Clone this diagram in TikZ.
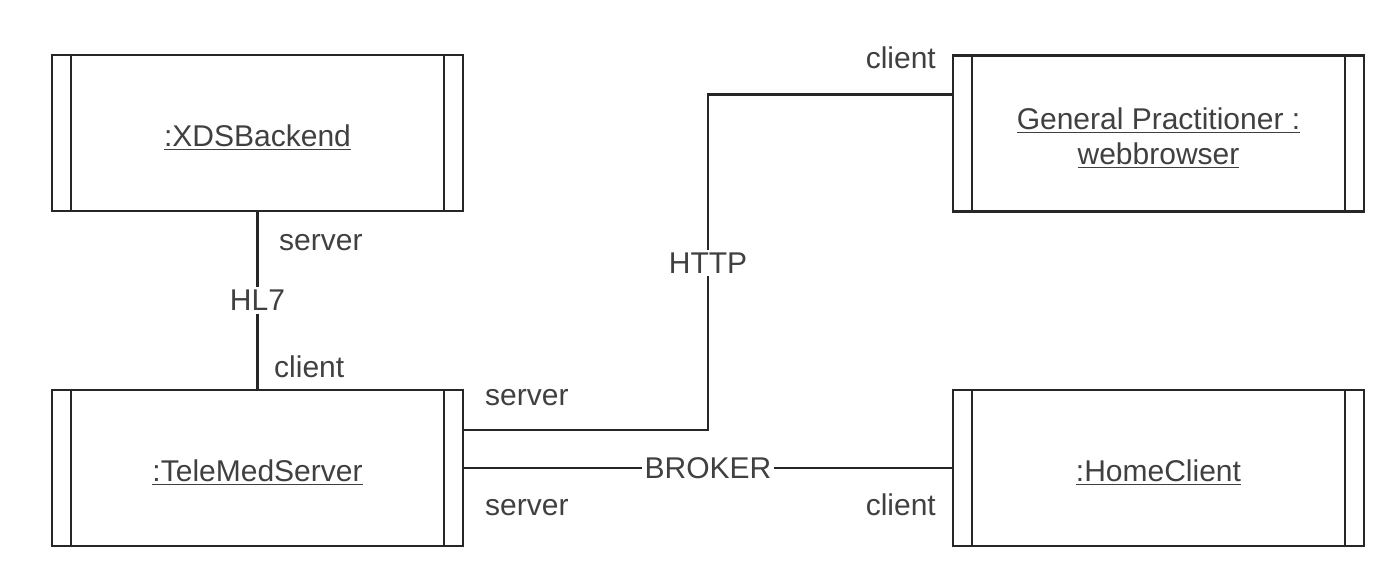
\documentclass[tikz,border=0pt]{standalone}
\usepackage{fontspec}
\setmainfont{Liberation Sans}
\usetikzlibrary{positioning}

\newcommand{\objname}[1]{\raisebox{-2.5pt}[\height][\depth]{\underline{#1}}}

\begin{document}
\begin{tikzpicture}[x=0.5pt, y=-0.5pt, line width=1.2pt, font=\fontsize{15}{17.5}\selectfont,
    object/.style={draw=black!85, minimum width=205.5pt, minimum height=78pt,
                   align=center, text=black!75, inner sep=0pt},
    role/.style={text=black!75, inner sep=0pt},
    proto/.style={fill=white, text=black!75, inner sep=1.5pt}]
  \useasboundingbox (0,0) rectangle (1398,567);

  \node[object] (xds)  at (257.5,133)   {\objname{:XDSBackend}};
  \node[object] (tele) at (257.5,468)   {\objname{:TeleMedServer}};
  \node[object] (gp)   at (1158.5,133.5) {\objname{General Practitioner :}\\ \objname{webbrowser}};
  \node[object] (home) at (1158.5,468)  {\objname{:HomeClient}};

  % side bars of the objects
  \foreach \n in {xds,tele,gp,home} {
    \draw[black!85] ([xshift=10pt]\n.north west) -- ([xshift=10pt]\n.south west);
    \draw[black!85] ([xshift=-10pt]\n.north east) -- ([xshift=-10pt]\n.south east);
  }

  \coordinate (httpmid) at (708,263);

  \draw[black!85] (xds) -- node[proto] {HL7} (tele);
  \draw[black!85] ([yshift=19pt]tele.east) -| (httpmid) node[proto] {HTTP}
                  |- ([yshift=19.5pt]gp.west);
  \draw[black!85] (tele) -- node[proto] {BROKER} (home);

  \node[role, anchor=base west] (r1) at (278,250) {server};
  \node[role, anchor=base west] (r2) at (273,377) {client};
  \node[role, anchor=base west] (r3) at (484,405) {server};
  \node[role, anchor=base west] (r4) at (484,515) {server};
  \node[role, anchor=base east] (r5) at (937,515) {client};
  \node[role, anchor=base east] (r6) at (937,69)  {client};
\end{tikzpicture}
\end{document}
